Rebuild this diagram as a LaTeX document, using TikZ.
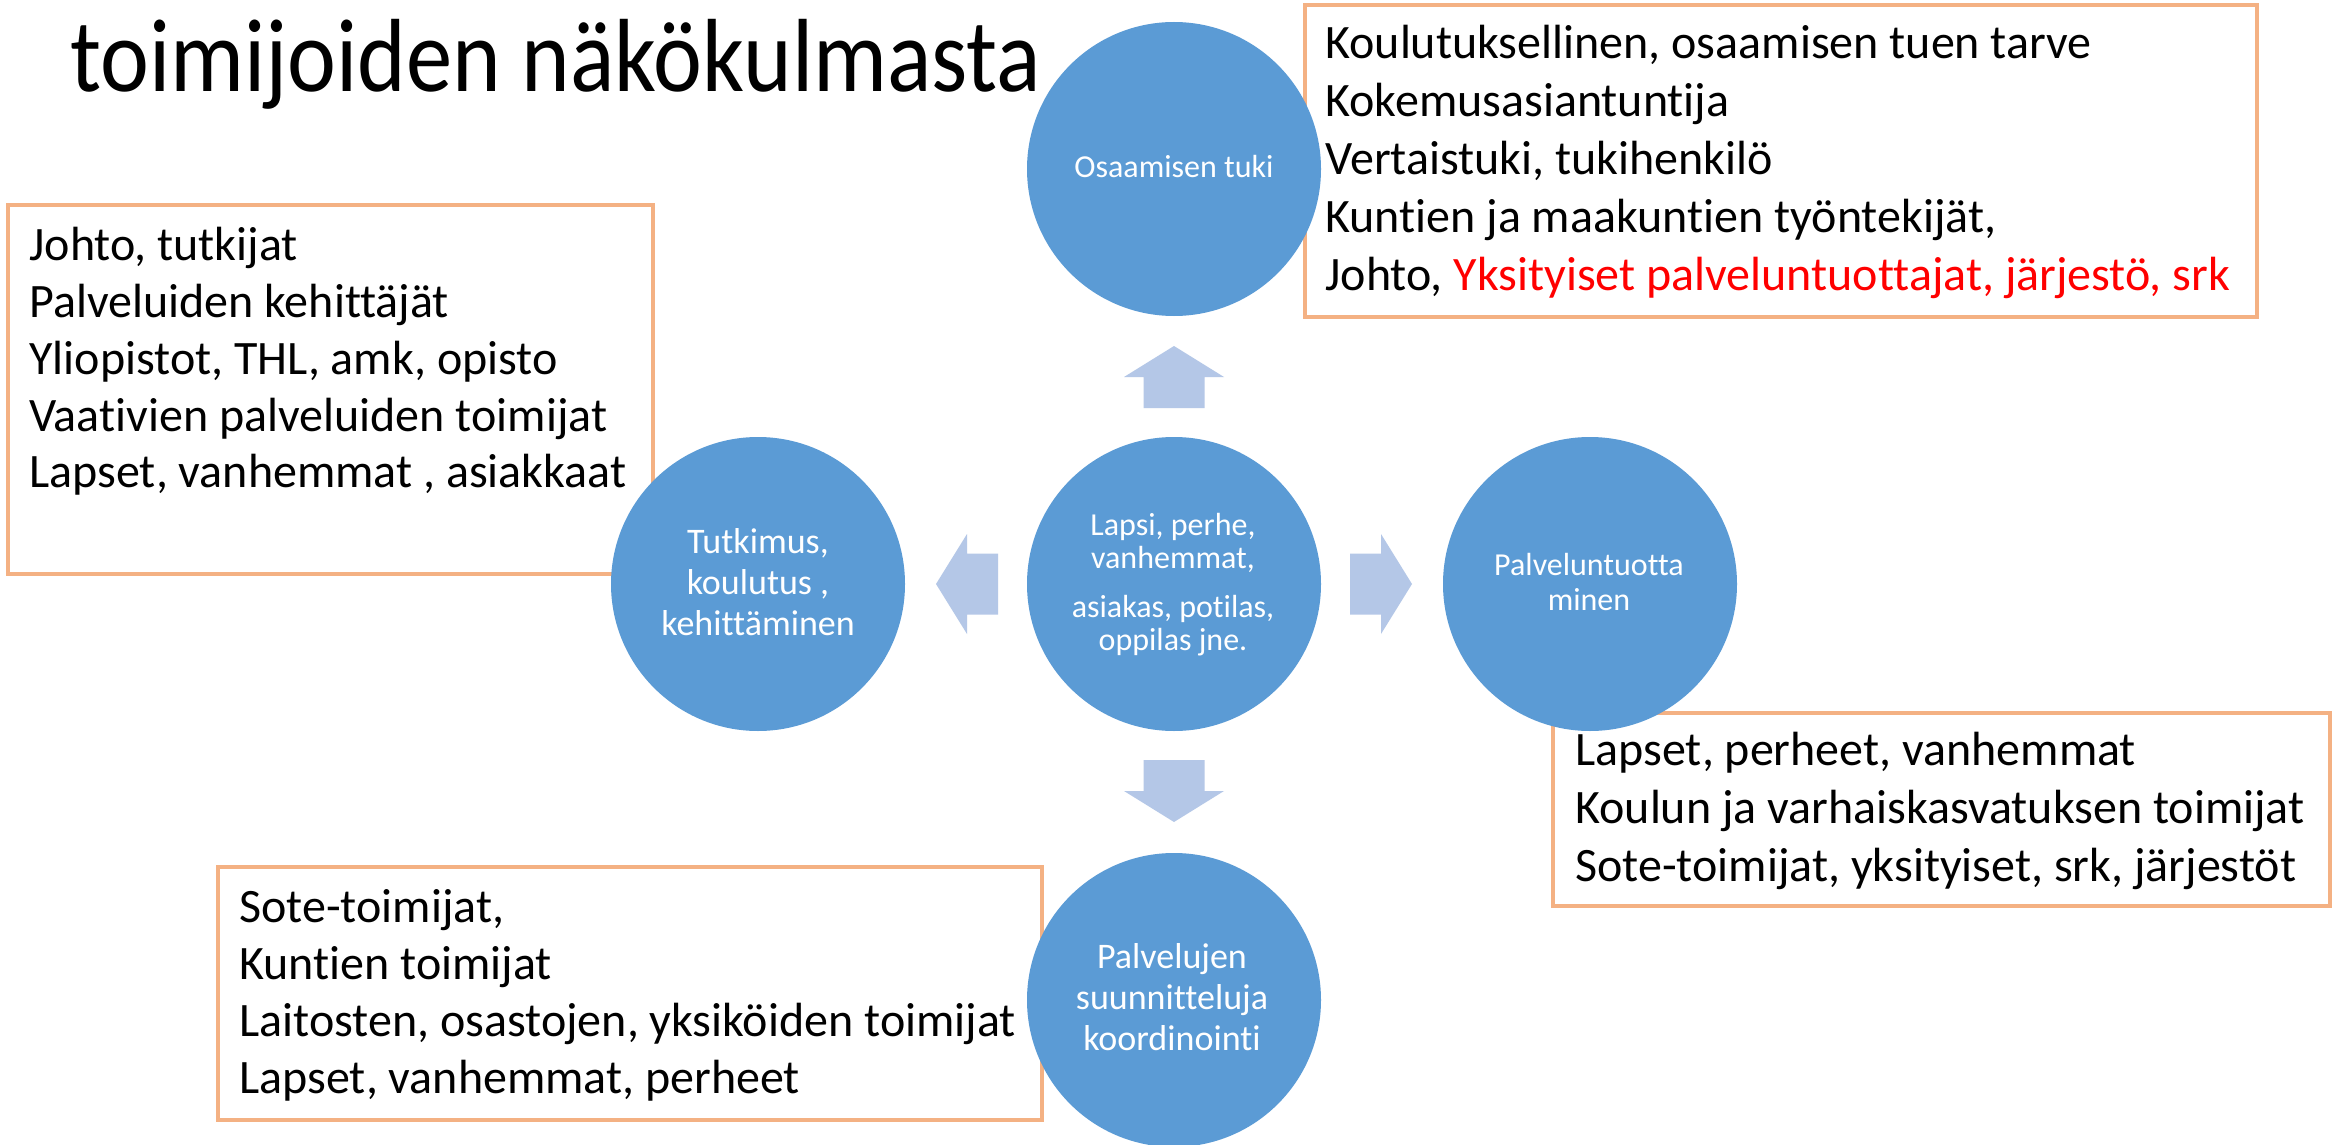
\documentclass[tikz,border=0pt]{standalone}
\usepackage{fontspec}
\setmainfont{Carlito}[Ligatures=NoCommon]
\newfontfamily\titlefont{Carlito}[FakeStretch=0.89, Ligatures=NoCommon]
\usetikzlibrary{calc}
\definecolor{circblue}{HTML}{5B9BD5}
\definecolor{arrblue}{HTML}{B4C7E7}
\definecolor{boxorange}{HTML}{F4B183}
\newcommand\leftlines[1]{\begin{tabular}[t]{@{}l@{}}#1\end{tabular}}
\newcommand\midlines[1]{\begin{tabular}[t]{@{}c@{}}#1\end{tabular}}
\begin{document}
\begin{tikzpicture}[x=0.5pt,y=-0.5pt,
  frame/.style={draw=boxorange, line width=2pt, fill=white},
  circ/.style={circle, fill=circblue, minimum size=147pt, inner sep=0pt},
  boxtxt/.style={inner sep=0pt, anchor=base west, font=\fontsize{24}{28.9}\selectfont},
  smalltxt/.style={inner sep=0pt, anchor=base, text=white, font=\fontsize{16}{16.5}\selectfont},
  bigtxt/.style={inner sep=0pt, anchor=base, text=white, font=\fontsize{18}{20.5}\selectfont},
  blockarrow/.style={fill=arrblue}]
\fill[white] (0,0) rectangle (2341,1145);
\useasboundingbox (0,0) rectangle (2341,1145);

% title
\node[inner sep=0pt, anchor=base west, font=\titlefont\fontsize{52}{56}\selectfont] (title) at (70,92) {toimijoiden näkökulmasta};

% boxes
\draw[frame] (1305,5) rectangle (2257,317);
\draw[frame] (8,205) rectangle (653,574);
\draw[frame] (218,867) rectangle (1042,1120);
\draw[frame] (1553,713) rectangle (2330,906);

\node[boxtxt] (toptxt) at (1325,59) {\leftlines{Koulutuksellinen, osaamisen tuen tarve\\ Kokemusasiantuntija\\ Vertaistuki, tukihenkilö\\ Kuntien ja maakuntien työntekijät,\\ Johto, \textcolor{red}{Yksityiset palveluntuottajat, järjestö, srk}}};
\node[boxtxt, font=\fontsize{24}{28.5}\selectfont] (lefttxt) at (29,260) {\leftlines{Johto, tutkijat\\ Palveluiden kehittäjät\\ Yliopistot, THL, amk, opisto\\ Vaativien palveluiden toimijat\\ Lapset, vanhemmat , asiakkaat}};
\node[boxtxt, font=\fontsize{24}{28.5}\selectfont] (bottxt) at (239,922) {\leftlines{Sote-toimijat,\\ Kuntien toimijat\\ Laitosten, osastojen, yksiköiden toimijat\\ Lapset, vanhemmat, perheet}};
\node[boxtxt, font=\fontsize{24}{29.2}\selectfont] (righttxt) at (1575,765) {\leftlines{Lapset, perheet, vanhemmat\\ Koulun ja varhaiskasvatuksen toimijat\\ Sote-toimijat, yksityiset, srk, järjestöt}};

% circles
\node[circ] (osaa) at (1174,169) {};
\node[circ] (lapsi) at (1174,584) {};
\node[circ] (tutk) at (758,584) {};
\node[circ] (palv) at (1590,584) {};
\node[circ] (suun) at (1174,1000) {};

% circle texts
\node[smalltxt] (osaatxt) at (1174,177) {Osaamisen tuki};
\node[smalltxt] (lapsitxt) at (1173,535) {\midlines{Lapsi, perhe,\\ vanhemmat,\\[8pt] asiakas, potilas,\\ oppilas jne.}};
\node[bigtxt] (tutktxt) at (758,553) {\midlines{Tutkimus,\\ koulutus ,\\ kehittäminen}};
\node[smalltxt, font=\fontsize{16}{17.5}\selectfont] (palvtxt) at (1589,575) {\midlines{Palveluntuotta\\ minen}};
\node[bigtxt] (suuntxt) at (1172,968) {\midlines{Palvelujen\\ suunnitteluja\\ koordinointi}};

% block arrows from the centre circle
\foreach \ang in {0,90,180,-90}
  \fill[blockarrow, shift={(lapsi.center)}, rotate=\ang]
    (176,-30.5) -- (207,-30.5) -- (207,-50) -- (238,0) -- (207,50) -- (207,30.5) -- (176,30.5) -- cycle;
\end{tikzpicture}
\end{document}
